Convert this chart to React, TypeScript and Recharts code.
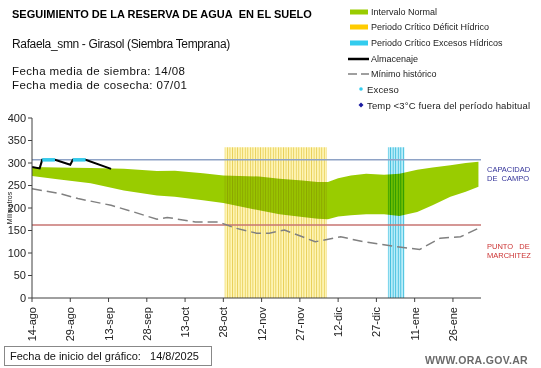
import {
  Area,
  ComposedChart,
  Line,
  ReferenceArea,
  ReferenceLine,
  XAxis,
  YAxis,
} from "recharts";

const FONT = '"Liberation Sans", Arial, sans-serif';

// eje x: días desde el 14/8
const xTicks = [0, 15, 30, 45, 60, 75, 90, 105, 120, 135, 150, 165];
const xTickLabels = [
  "14-ago", "29-ago", "13-sep", "28-sep", "13-oct", "28-oct",
  "12-nov", "27-nov", "12-dic", "27-dic", "11-ene", "26-ene",
];
const yTicks = [0, 50, 100, 150, 200, 250, 300, 350, 400];

// intervalo normal (banda verde)
const normalDays = [0, 10, 23, 36, 49, 56, 67, 75, 89, 97, 106, 112, 116, 120, 125, 131, 138, 144, 151, 157, 164, 170, 175];
const normalLow = [271, 264, 255, 239, 228, 225, 217, 211, 195, 186, 180, 176, 175, 181, 184, 186, 186, 182, 191, 206, 225, 236, 247];
const normalHigh = [291, 290, 289, 287, 282, 283, 277, 272, 270, 265, 261, 258, 258, 266, 272, 276, 274, 276, 285, 290, 295, 300, 303];

// mínimo histórico
const minDays = [0, 11, 18, 31, 40, 49, 53, 64, 73, 80, 88, 93, 99, 106, 111, 121, 130, 143, 152, 160, 168, 175];
const minValues = [243, 232, 221, 206, 191, 175, 179, 169, 169, 155, 144, 144, 151, 136, 125, 136, 125, 114, 108, 133, 136, 155];

// almacenaje
const almDays = [0, 3, 4, 9, 15, 16, 21, 31];
const almValues = [291, 288, 307, 307, 296, 307, 307, 287];

// exceso (puntos en capacidad de campo)
const excesoDays = [4, 5, 6, 7, 8, 9, 16, 17, 18, 19, 20, 21];
const excesoValue = 307;

const capacidadCampo = 307;
const puntoMarchitez = 162;

// periodos críticos
const deficitPeriod = [75.5, 115.5];
const excesoPeriod = [139.5, 146];
const periodTop = 335;

const rows: Record<number, any> = {};
const row = (d: number) => (rows[d] ??= { day: d });
normalDays.forEach((d, i) => (row(d).normal = [normalLow[i], normalHigh[i]]));
minDays.forEach((d, i) => (row(d).min = minValues[i]));
almDays.forEach((d, i) => (row(d).alm = almValues[i]));
const data = Object.values(rows).sort((a, b) => a.day - b.day);
const excesoData = excesoDays.map((d) => ({ day: d, exceso: excesoValue }));
const excesoSegments = [excesoData.slice(0, 6), excesoData.slice(6)];

const XTick = ({ x, y, payload }: any) => (
  <text
    x={x}
    y={y + 3}
    transform={`rotate(-90 ${x} ${y + 3})`}
    textAnchor="end"
    dominantBaseline="central"
    fontSize={11}
    fill="#222"
    fontFamily={FONT}
  >
    {xTickLabels[xTicks.indexOf(payload.value)]}
  </text>
);

const legendItems = [
  { label: "Intervalo Normal", kind: "bar", color: "#99cc00" },
  { label: "Periodo Crítico Déficit Hídrico", kind: "bar", color: "#ffcc00" },
  { label: "Periodo Crítico Excesos Hídricos", kind: "bar", color: "#33ccee" },
  { label: "Almacenaje", kind: "line", color: "#000" },
  { label: "Mínimo histórico", kind: "dash", color: "#808080" },
  { label: "Exceso", kind: "dot", color: "#33ccee" },
  { label: "Temp <3°C fuera del período habitual", kind: "diamond", color: "#1a1aa0" },
];
const legendY = [12, 27, 43, 59, 74, 89, 105];

export default function App() {
  return (
    <div
      style={{
        position: "absolute",
        left: 0,
        top: 0,
        width: 541,
        height: 368,
        background: "#fff",
        fontFamily: FONT,
        overflow: "hidden",
      }}
    >
      <style>{`.recharts-reference-area-rect { mix-blend-mode: multiply; }`}</style>
      <ComposedChart
        width={541}
        height={368}
        data={data}
        margin={{ top: 118, right: 60, bottom: 0, left: 0 }}
        style={{ position: "absolute", left: 0, top: 0 }}
      >
        <defs>
          <pattern id="yel" patternUnits="userSpaceOnUse" width={2.55} height={10}>
            <rect x={0} y={0} width={2.55} height={10} fill="#fff6b8" />
            <rect x={0} y={0} width={0.9} height={10} fill="#e8cf58" />
          </pattern>
          <pattern id="cya" patternUnits="userSpaceOnUse" width={2.55} height={10}>
            <rect x={0} y={0} width={2.55} height={10} fill="#bdeefa" />
            <rect x={0} y={0} width={0.9} height={10} fill="#3cbcdc" />
          </pattern>
        </defs>
        <XAxis
          dataKey="day"
          type="number"
          domain={[0, 176]}
          ticks={xTicks}
          interval={0}
          height={70}
          tick={<XTick />}
          tickSize={4}
          stroke="#404040"
          allowDataOverflow
        />
        <YAxis
          type="number"
          domain={[0, 400]}
          ticks={yTicks}
          interval={0}
          width={32}
          tickSize={4}
          stroke="#404040"
          tick={{ fontSize: 11, fill: "#222", fontFamily: FONT }}
          label={{
            value: "Milímetros",
            angle: -90,
            position: "insideLeft",
            offset: 10,
            style: { fontSize: 7, fill: "#222", fontFamily: FONT, textAnchor: "middle" },
          }}
        />
        <Area
          dataKey="normal"
          type="linear"
          stroke="none"
          fill="#99cc00"
          fillOpacity={1}
          connectNulls
          isAnimationActive={false}
        />
        <ReferenceArea
          x1={deficitPeriod[0]}
          x2={deficitPeriod[1]}
          y1={0}
          y2={periodTop}
          fill="url(#yel)"
          fillOpacity={1}
          stroke="none"
        />
        <ReferenceArea
          x1={excesoPeriod[0]}
          x2={excesoPeriod[1]}
          y1={0}
          y2={periodTop}
          fill="url(#cya)"
          fillOpacity={1}
          stroke="none"
        />
        <ReferenceLine
          y={capacidadCampo}
          stroke="#8ea2c6"
          strokeWidth={1.5}
          segment={[{ x: 0, y: capacidadCampo }, { x: 175, y: capacidadCampo }]}
        />
        <ReferenceLine
          y={puntoMarchitez}
          stroke="#c77472"
          strokeWidth={1.5}
          segment={[{ x: 0, y: puntoMarchitez }, { x: 175, y: puntoMarchitez }]}
        />
        <Line
          dataKey="min"
          type="linear"
          stroke="#808080"
          strokeWidth={1.5}
          strokeDasharray="10 5"
          dot={false}
          connectNulls
          isAnimationActive={false}
        />
        <Line
          dataKey="alm"
          type="linear"
          stroke="#000"
          strokeWidth={2}
          dot={false}
          connectNulls
          isAnimationActive={false}
        />
        {excesoSegments.map((seg, i) => (
          <Line
            key={i}
            data={seg}
            dataKey="exceso"
            type="linear"
            stroke="#33ccee"
            strokeWidth={3.5}
            dot={false}
            isAnimationActive={false}
          />
        ))}
      </ComposedChart>

      <div style={{ position: "absolute", left: 12, top: 8, fontSize: 11, fontWeight: "bold", color: "#000", whiteSpace: "nowrap" }}>
        SEGUIMIENTO DE LA RESERVA DE AGUA&nbsp; EN EL SUELO
      </div>
      <div style={{ position: "absolute", left: 12, top: 37, fontSize: 12, color: "#111", whiteSpace: "nowrap", letterSpacing: -0.35 }}>
        Rafaela_smn - Girasol (Siembra Temprana)
      </div>
      <div style={{ position: "absolute", left: 12, top: 65, fontSize: 11.5, lineHeight: "12px", color: "#111", whiteSpace: "nowrap", letterSpacing: 0.4 }}>
        Fecha media de siembra: 14/08
      </div>
      <div style={{ position: "absolute", left: 12, top: 79, fontSize: 11.5, lineHeight: "12px", color: "#111", whiteSpace: "nowrap", letterSpacing: 0.4 }}>
        Fecha media de cosecha: 07/01
      </div>

      <svg width={541} height={120} style={{ position: "absolute", left: 0, top: 0 }}>
        {legendItems.map((it, i) => {
          const y = legendY[i];
          let mark;
          if (it.kind === "bar") mark = <rect x={350} y={y - 2.5} width={18} height={5} fill={it.color} />;
          else if (it.kind === "line") mark = <line x1={348} x2={369} y1={y} y2={y} stroke={it.color} strokeWidth={2.5} />;
          else if (it.kind === "dash") mark = <line x1={348} x2={369} y1={y} y2={y} stroke={it.color} strokeWidth={1.5} strokeDasharray="9 4" />;
          else if (it.kind === "dot") mark = <circle cx={361} cy={y} r={1.8} fill={it.color} />;
          else mark = <polygon points={`361,${y - 2.5} 363.5,${y} 361,${y + 2.5} 358.5,${y}`} fill={it.color} />;
          const small = it.kind === "dot" || it.kind === "diamond";
          return (
            <g key={it.label}>
              {mark}
              <text
                x={small ? 367 : 371}
                y={y}
                dominantBaseline="central"
                fontSize={small ? 9.5 : 9}
                letterSpacing={small ? 0.15 : 0}
                fill="#222"
                fontFamily={FONT}
              >
                {it.label}
              </text>
            </g>
          );
        })}
      </svg>

      <div style={{ position: "absolute", left: 487, top: 165, fontSize: 7.5, lineHeight: "9px", color: "#333399", whiteSpace: "nowrap" }}>
        CAPACIDAD
        <br />
        DE&nbsp; CAMPO
      </div>
      <div style={{ position: "absolute", left: 487, top: 242, fontSize: 7.5, lineHeight: "9px", color: "#cc3333", whiteSpace: "nowrap" }}>
        PUNTO&nbsp;&nbsp; DE
        <br />
        MARCHITEZ
      </div>

      <div
        style={{
          position: "absolute",
          left: 4,
          top: 346,
          width: 208,
          height: 20,
          border: "1px solid #888",
          fontSize: 11,
          lineHeight: "18px",
          paddingLeft: 5,
          boxSizing: "border-box",
          color: "#111",
          whiteSpace: "nowrap",
        }}
      >
        Fecha de inicio del gráfico:&nbsp;&nbsp; 14/8/2025
      </div>
      <div style={{ position: "absolute", left: 425, top: 354, fontSize: 10.5, fontWeight: "bold", color: "#6a6a6a", whiteSpace: "nowrap", letterSpacing: 0.3 }}>
        WWW.ORA.GOV.AR
      </div>
    </div>
  );
}
